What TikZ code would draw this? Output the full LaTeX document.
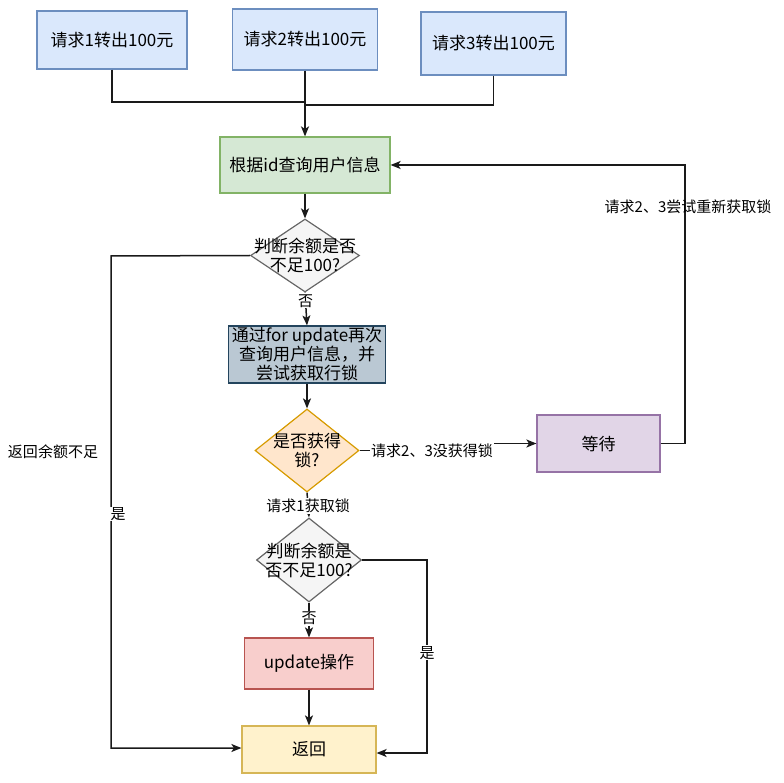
\documentclass[tikz,border=0pt]{standalone}
\usepackage{fontspec}
\setmainfont{Noto Sans CJK SC}
\usetikzlibrary{shapes.geometric,arrows.meta}
\definecolor{blueF}{HTML}{DAE8FC}\definecolor{blueS}{HTML}{6C8EBF}
\definecolor{greenF}{HTML}{D5E8D4}\definecolor{greenS}{HTML}{82B366}
\definecolor{grayF}{HTML}{F5F5F5}\definecolor{grayS}{HTML}{666666}
\definecolor{slateF}{HTML}{BAC8D3}\definecolor{slateS}{HTML}{23445D}
\definecolor{orangeF}{HTML}{FFE6CC}\definecolor{orangeS}{HTML}{D79B00}
\definecolor{purpleF}{HTML}{E1D5E7}\definecolor{purpleS}{HTML}{9673A6}
\definecolor{redF}{HTML}{F8CECC}\definecolor{redS}{HTML}{B85450}
\definecolor{yellowF}{HTML}{FFF2CC}\definecolor{yellowS}{HTML}{D6B656}
\definecolor{lineC}{HTML}{1A1A1A}
\begin{document}
\begin{tikzpicture}[x=1pt,y=-1pt,
  nbox/.style={rectangle, draw, line width=1.2pt, inner sep=0pt, align=center,
    font=\fontsize{17}{19}\selectfont},
  dec/.style={diamond, draw, line width=1.2pt, inner sep=0pt,
    label={[align=center,font=\fontsize{17}{19}\selectfont]center:#1}},
  conn/.style={draw=lineC, line width=1.5pt},
  arr/.style={conn, -{Stealth[length=10pt,width=8pt,inset=2.5pt]}},
  elbl/.style={fill=white, inner sep=1pt, font=\fontsize{15}{17}\selectfont, align=center},
  tlbl/.style={inner sep=1pt, font=\fontsize{15}{17}\selectfont}]
\useasboundingbox (0,0) rectangle (784,783);

% request boxes
\node[nbox, fill=blueF, draw=blueS, minimum width=150pt, minimum height=58pt] (b1) at (112,40) {请求1转出100元};
\node[nbox, fill=blueF, draw=blueS, minimum width=145pt, minimum height=61pt] (b2) at (305,39.5) {请求2转出100元};
\node[nbox, fill=blueF, draw=blueS, minimum width=145pt, minimum height=63pt] (b3) at (493.5,43.5) {请求3转出100元};

\node[nbox, fill=greenF, draw=greenS, minimum width=170pt, minimum height=56pt] (g) at (305,165) {根据id查询用户信息};

\node[dec={判断余额是否\\不足100?}, fill=grayF, draw=grayS, minimum width=109pt, minimum height=73pt] (d1) at (305,255.5) {};

\node[nbox, fill=slateF, draw=slateS, minimum width=157pt, minimum height=57pt] (s) at (307,354.5) {通过for update再次\\查询用户信息，并\\尝试获取行锁};

\node[dec={是否获得\\锁?}, fill=orangeF, draw=orangeS, minimum width=104pt, minimum height=83pt] (d2) at (307,450.5) {};

\node[nbox, fill=purpleF, draw=purpleS, minimum width=123pt, minimum height=57pt] (w) at (598.5,443.5) {等待};

\node[dec={判断余额是\\否不足100?}, fill=grayF, draw=grayS, minimum width=105pt, minimum height=84pt] (d3) at (309,560) {};

\node[nbox, fill=redF, draw=redS, minimum width=129pt, minimum height=51pt] (u) at (309,663.5) {update操作};

\node[nbox, fill=yellowF, draw=yellowS, minimum width=134pt, minimum height=47pt] (r) at (309,749.5) {返回};

% junctions
\coordinate (j1) at (305,102);
\coordinate (j3) at (305,105);
\coordinate (dl) at (111,256);
\coordinate (rl) at (111,748);
\coordinate (d3r) at (427,560);
\coordinate (rr) at (427,753);
\coordinate (wr) at (685,443.5);
\coordinate (gr) at (685,165);
\coordinate (mid) at (432,450.5);

% connectors
\draw[conn] (b1.south) |- (j1);
\draw[conn] (b3.south) |- (j3);
\draw[arr] (b2.south) -- (g.north);
\draw[arr] (g.south) -- (d1.north);
\draw[arr] (d1.south) -- node[elbl, pos=0.25] (n1) {否} (s.north);
\draw[arr] (s.south) -- (d2.north);
\draw[arr] (d2.east) -- (mid) |- (w.west);
\node[elbl] (l2) at (mid) {请求2、3没获得锁};
\draw[arr] (w.east) -- (wr) -- (gr) -- (g.east);
\node[elbl, fill=none] (l4) at (688,207) {请求2、3尝试重新获取锁};
\draw[arr] (d2.south) -- node[elbl, pos=0.55] (l3) {请求1获取锁} (d3.north);
\draw[arr] (d3.south) -- node[elbl, pos=0.45] (n2) {否} (u.north);
\draw[arr] (u.south) -- (r.north);
\draw[arr] (d3.east) -- (d3r) -- node[elbl, pos=0.48] (y2) {是} (rr) -- (r.east |- rr);
\draw[arr] (d1.west) -- (dl) -- (rl) -- (r.west |- rl);
\node[elbl, inner sep=0.5pt] (y1) at (118,514) {是};
\node[tlbl] (t1) at (53,452) {返回余额不足};
\end{tikzpicture}
\end{document}
